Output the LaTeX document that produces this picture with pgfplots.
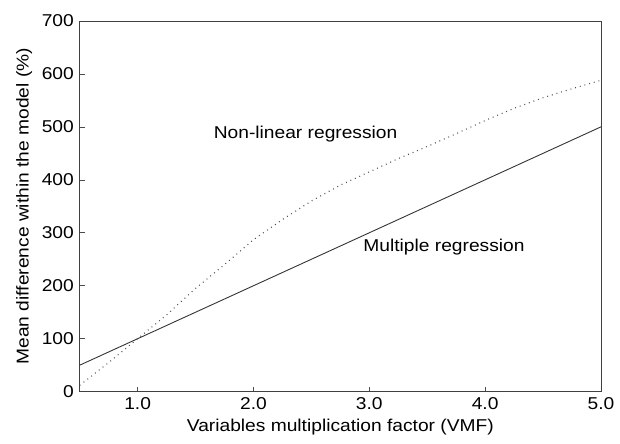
\documentclass[border=0pt]{standalone}
\usepackage{pgfplots}
\pgfplotsset{compat=1.18}
\usepackage{fontspec}
\setmainfont{Liberation Sans}[FakeStretch=1.12]
\begin{document}
\fontsize{17.2bp}{20bp}\selectfont
\begin{tikzpicture}
\begin{axis}[
  scale only axis,
  width=523bp, height=372bp,
  xmin=0.5, xmax=5.0, ymin=0, ymax=700,
  xtick={1,2,3,4,5},
  xticklabels={1.0,2.0,3.0,4.0,5.0},
  ytick={0,100,200,300,400,500,600,700},
  /pgf/number format/assume math mode=true,
  tick align=inside,
  xtick pos=bottom, ytick pos=left,
  major tick length=5bp,
  tick style={black!70, line width=0.6pt},
  axis line style={black!75, line width=0.7pt},
  xlabel={Variables multiplication factor (VMF)},
  ylabel={Mean difference within the model (\%)},
  xlabel style={yshift=2bp},
  ylabel style={yshift=-2bp},
  clip=false,
  tick label style={font=\fontsize{17.2bp}{20bp}\selectfont},
  label style={font=\fontsize{17.2bp}{20bp}\selectfont},
]
\path (rel axis cs:-0.153,-0.1398) rectangle (rel axis cs:1.0325,1.0565);
\addplot[black!80, line width=0.9pt] coordinates {(0.5,50) (5.0,500)};
\addplot[black!70, line width=1.1pt, dash pattern=on 0.9pt off 4pt] coordinates {
 (0.5,12) (0.75,55) (1.0,100) (1.25,145) (1.5,195) (1.75,240) (2.0,287)
 (2.25,325) (2.5,360) (2.75,390) (3.0,415) (3.25,440) (3.5,463) (3.75,487)
 (4.0,512) (4.25,535) (4.5,555) (4.75,572) (5.0,588)};
\node at (axis cs:2.45,487) {Non-linear regression};
\node at (axis cs:3.645,273) {Multiple regression};
\end{axis}
\end{tikzpicture}
\end{document}
